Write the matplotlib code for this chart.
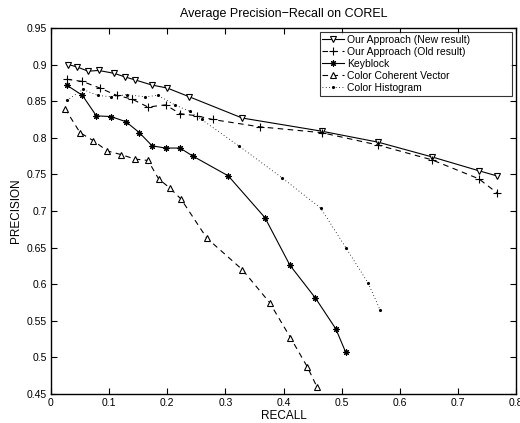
import matplotlib
matplotlib.use("Agg")
import matplotlib.pyplot as plt

plt.rcParams['font.family'] = ['Liberation Sans', 'DejaVu Sans']

# Our Approach (New result)
new_recall = [0.030, 0.044, 0.064, 0.082, 0.109, 0.128, 0.145, 0.174, 0.200, 0.238, 0.329, 0.466, 0.563, 0.655, 0.736, 0.767]
new_prec = [0.900, 0.897, 0.891, 0.892, 0.888, 0.883, 0.879, 0.872, 0.868, 0.856, 0.827, 0.809, 0.794, 0.774, 0.755, 0.748]

# Our Approach (Old result)
old_recall = [0.027, 0.054, 0.084, 0.113, 0.139, 0.167, 0.197, 0.222, 0.251, 0.278, 0.359, 0.466, 0.563, 0.655, 0.736, 0.767]
old_prec = [0.880, 0.877, 0.868, 0.858, 0.853, 0.842, 0.845, 0.833, 0.830, 0.825, 0.815, 0.807, 0.790, 0.770, 0.744, 0.725]

# Keyblock
kb_recall = [0.027, 0.054, 0.078, 0.103, 0.129, 0.152, 0.174, 0.197, 0.222, 0.244, 0.305, 0.368, 0.411, 0.455, 0.490, 0.507]
kb_prec = [0.872, 0.858, 0.830, 0.829, 0.822, 0.807, 0.789, 0.786, 0.786, 0.775, 0.748, 0.691, 0.626, 0.581, 0.539, 0.507]

# Color Coherent Vector
ccv_recall = [0.024, 0.050, 0.073, 0.097, 0.121, 0.144, 0.167, 0.185, 0.205, 0.224, 0.268, 0.329, 0.376, 0.412, 0.441, 0.458]
ccv_prec = [0.840, 0.807, 0.796, 0.782, 0.777, 0.771, 0.769, 0.744, 0.731, 0.716, 0.663, 0.620, 0.575, 0.527, 0.487, 0.459]

# Color Histogram
ch_recall = [0.027, 0.055, 0.080, 0.104, 0.130, 0.162, 0.184, 0.213, 0.239, 0.259, 0.323, 0.398, 0.464, 0.508, 0.546, 0.566]
ch_prec = [0.851, 0.866, 0.858, 0.856, 0.859, 0.856, 0.858, 0.845, 0.836, 0.825, 0.789, 0.745, 0.704, 0.649, 0.601, 0.565]

x_ticks = [0, 0.1, 0.2, 0.3, 0.4, 0.5, 0.6, 0.7, 0.8]
x_labels = ['0', '0.1', '0.2', '0.3', '0.4', '0.5', '0.6', '0.7', '0.8']
y_ticks = [0.45, 0.5, 0.55, 0.6, 0.65, 0.7, 0.75, 0.8, 0.85, 0.9, 0.95]
y_labels = ['0.45', '0.5', '0.55', '0.6', '0.65', '0.7', '0.75', '0.8', '0.85', '0.9', '0.95']

fig = plt.figure(figsize=(5.2, 4.23), dpi=100)
ax = fig.add_axes([51/520, 1-394/423, 465/520, 366/423])

ax.plot(new_recall, new_prec, color='black', linestyle='-', linewidth=0.8,
        marker='v', markersize=5, markerfacecolor='white', markeredgecolor='black',
        markeredgewidth=0.8, label='Our Approach (New result)')
ax.plot(old_recall, old_prec, color='black', linestyle=(0, (5, 4)), linewidth=0.8,
        marker='+', markersize=5.5, markeredgewidth=0.8, label='Our Approach (Old result)')
ax.plot(kb_recall, kb_prec, color='black', linestyle='-', linewidth=0.8,
        marker=(8, 2, 0), markersize=4.5, markeredgewidth=0.8, label='Keyblock')
ax.plot(ccv_recall, ccv_prec, color='black', linestyle=(0, (5, 4)), linewidth=0.8,
        marker='^', markersize=5, markerfacecolor='white', markeredgecolor='black',
        markeredgewidth=0.8, label='Color Coherent Vector')
ax.plot(ch_recall, ch_prec, color='black', linestyle=(0, (1, 3)), linewidth=0.6,
        marker='.', markersize=2.5, label='Color Histogram')

ax.set_xlim(0, 0.8)
ax.set_ylim(0.45, 0.95)
ax.set_xticks(x_ticks)
ax.set_xticklabels(x_labels)
ax.set_yticks(y_ticks)
ax.set_yticklabels(y_labels)
ax.tick_params(direction='in', top=True, right=True, labelsize=7.5, length=4, width=0.8, pad=3)
for s in ax.spines.values():
    s.set_linewidth(1.0)

ax.set_title('Average Precision\u2212Recall on COREL', fontsize=9, pad=8)
ax.set_xlabel('RECALL', fontsize=8.5, labelpad=1)
ax.set_ylabel('PRECISION', fontsize=8.5, labelpad=3)

leg = ax.legend(loc='upper left', bbox_to_anchor=(0.578, 0.817, 0.413, 0.172),
                mode='expand', borderaxespad=0.0,
                fontsize=7.5, frameon=True, fancybox=False,
                edgecolor='black', handlelength=2.1,
                labelspacing=0.2, borderpad=0.25, handletextpad=0.3)
leg.get_frame().set_linewidth(0.8)

fig.savefig('out.png', dpi=100)
